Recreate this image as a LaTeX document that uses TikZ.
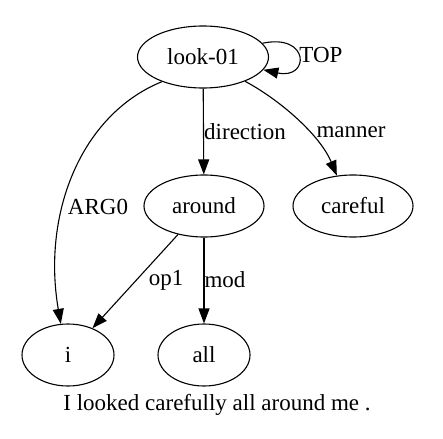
\documentclass[tikz,border=0pt]{standalone}
\usepackage{fontspec}
\setmainfont{Liberation Serif}
\usetikzlibrary{shapes.geometric,arrows.meta}

\begin{document}
\begin{tikzpicture}[x=1pt, y=-1pt, font=\fontsize{23}{27}\selectfont, >={Triangle[length=15pt,width=11pt]},
  concept/.style={draw, ellipse, line width=1.1pt, inner sep=0pt, minimum height=62pt},
  rel/.style={->, line width=1.1pt}]
\useasboundingbox (0,0) rectangle (443,438);
\node[concept, minimum width=131pt] (look)    at (203,57)  {look-01};
\node[concept, minimum width=120pt] (around)  at (204,206) {around};
\node[concept, minimum width=120pt] (careful) at (353,206) {careful};
\node[concept, minimum width=92pt]  (i)       at (68,355)  {i};
\node[concept, minimum width=92pt]  (all)     at (204,355) {all};
\draw[rel] (look.13) .. controls (310,33) and (310,80) .. (look.-12);
\draw[rel] (look.211) .. controls (80,115) and (42,215) .. (i.103);
\draw[rel] (look) -- (around);
\draw[rel] (look.-30) .. controls (280,100) and (320,135) .. (careful.118);
\draw[rel] (around) -- (i);
\draw[rel] (around) -- (all);
\node (top)  at (321,55)  {TOP};
\node (arg)  at (98,207)  {ARG0};
\node[anchor=west, inner sep=0pt] (dir) at (204,132) {direction};
\node (mnr)  at (351,132) {manner};
\node (opa)  at (166,280) {op1};
\node (mdf)  at (225,280) {mod};
\node (sent) at (217,405) {I looked carefully all around me .};
\end{tikzpicture}
\end{document}
